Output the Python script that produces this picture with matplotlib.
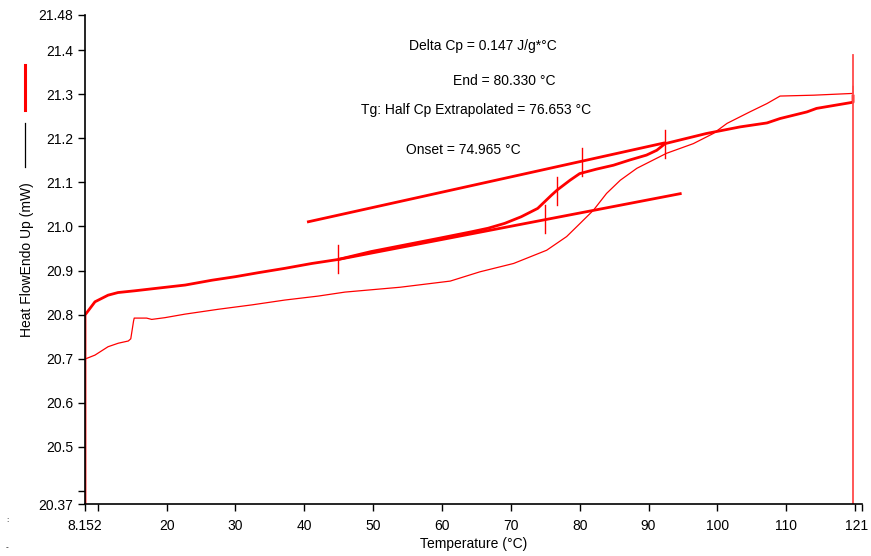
import numpy as np
import matplotlib
matplotlib.use("Agg")
import matplotlib.pyplot as plt
from matplotlib.lines import Line2D
from matplotlib.transforms import ScaledTranslation

plt.rcParams['font.family'] = ['Liberation Sans', 'DejaVu Sans']

# heating curve with Tg analysis (thick)
t_thick = [8.152, 8.152, 9.6, 11.5, 12.95, 15.4, 18.75, 22.7, 26.6, 30.0, 33.3, 37.2, 41.1, 44.9,
           49.7, 54.6, 59.5, 64.3, 66.7, 69.1, 71.5, 73.9, 75.9, 76.75, 78.6, 80.0, 82.4, 84.9,
           87.3, 89.7, 91.2, 92.4, 98.4, 103.3, 107.2, 109.1, 113.0, 114.4, 117.8, 119.7, 119.7]
hf_thick = [20.37, 20.799, 20.829, 20.844, 20.85, 20.854, 20.86, 20.867, 20.878, 20.886, 20.895, 20.905, 20.916, 20.925,
            20.943, 20.958, 20.973, 20.988, 20.996, 21.007, 21.022, 21.041, 21.071, 21.083, 21.105, 21.12, 21.13, 21.139,
            21.151, 21.162, 21.173, 21.188, 21.211, 21.226, 21.235, 21.245, 21.26, 21.268, 21.277, 21.282, 21.296]

# second heating curve (thin)
t_thin = [8.152, 9.6, 11.5, 12.99, 14.44, 14.8, 15.2, 15.3, 17.1, 17.84, 19.77, 22.68, 27.5, 32.4, 37.2,
          42.04, 45.9, 53.9, 61.2, 65.5, 70.4, 75.2, 78.1, 80.06, 82.0, 83.9, 85.9, 88.3, 90.7, 92.6,
          96.5, 99.4, 101.4, 104.7, 107.2, 109.1, 114.0, 119.7, 119.7]
hf_thin = [20.699, 20.708, 20.727, 20.735, 20.74, 20.745, 20.785, 20.792, 20.792, 20.789, 20.793, 20.801, 20.812, 20.822, 20.833,
           20.842, 20.851, 20.862, 20.876, 20.897, 20.916, 20.946, 20.977, 21.007, 21.037, 21.075, 21.105, 21.132, 21.151, 21.166,
           21.188, 21.211, 21.234, 21.26, 21.279, 21.296, 21.298, 21.302, 21.318]

# extrapolated baselines
t_base_low = [44.9, 94.8]
hf_base_low = [20.925, 21.075]
t_base_up = [40.4, 92.4]
hf_base_up = [21.010, 21.190]

# analysis marks (temperature, centre value)
mark_t = [44.9, 74.965, 76.653, 80.33, 92.4]
mark_hf = [20.927, 21.017, 21.08, 21.146, 21.188]
mark_half = 0.032

# limits / vertical cursors
t_min, t_max = 8.152, 121
hf_min, hf_max = 20.37, 21.48
t_right = 119.7
hf_right_top = 21.39

xticks = [8.152, 10, 20, 30, 40, 50, 60, 70, 80, 90, 100, 110, 120, 121]
xtick_labels = ['8.152', '', '20', '30', '40', '50', '60', '70', '80', '90', '100', '110', '', '121']
yticks = [20.37, 20.4, 20.5, 20.6, 20.7, 20.8, 20.9, 21.0, 21.1, 21.2, 21.3, 21.4, 21.48]
ytick_labels = ['20.37', '', '20.5', '20.6', '20.7', '20.8', '20.9', '21.0', '21.1', '21.2', '21.3', '21.4', '21.48']

annotations = [
    ("Delta Cp = 0.147 J/g*\u00b0C", 409, 46),
    ("End = 80.330 \u00b0C", 453, 81),
    ("Tg: Half Cp Extrapolated = 76.653 \u00b0C", 361, 110),
    ("Onset = 74.965 \u00b0C", 406, 150),
]

W, H = 871, 556
fig = plt.figure(figsize=(W / 100, H / 100), dpi=100)
ax = fig.add_axes([85 / W, 1 - 504 / H, (862 - 85) / W, (504 - 15) / H])

red = '#ff0000'
ax.plot(t_thin, hf_thin, color=red, lw=0.9)
ax.plot(t_thick, hf_thick, color=red, lw=2.0)
ax.plot(t_base_low, hf_base_low, color=red, lw=2.0, solid_capstyle='butt')
ax.plot(t_base_up, hf_base_up, color=red, lw=2.0, solid_capstyle='butt')
for t, h in zip(mark_t, mark_hf):
    ax.plot([t, t], [h - mark_half, h + mark_half], color=red, lw=1.0)

ax.plot([t_min, t_min], [hf_min, 20.80], color=red, lw=1.2)
ax.plot([t_right, t_right], [hf_min, hf_right_top], color='#ff4a4a', lw=1.3)

ax.set_xlim(t_min, t_max)
ax.set_ylim(hf_min, hf_max)
ax.set_xticks(xticks)
ax.set_xticklabels(xtick_labels)
ax.set_yticks(yticks)
ax.set_yticklabels(ytick_labels)
ax.tick_params(axis='both', direction='out', length=5, width=1, labelsize=10, colors='black')
ax.tick_params(axis='x', pad=6)
ax.spines['top'].set_visible(False)
ax.spines['right'].set_visible(False)
ax.spines['left'].set_linewidth(1.2)
ax.spines['bottom'].set_linewidth(1.2)
ax.set_xlabel('Temperature (\u00b0C)', fontsize=10, labelpad=3)

# keep the last x label inside the figure
last = ax.get_xticklabels()[-1]
last.set_transform(last.get_transform() + ScaledTranslation(-5 / 100, 0, fig.dpi_scale_trans))

fig.text(27 / W, 1 - 260 / H, 'Heat FlowEndo Up (mW)', rotation=90, ha='center', va='center', fontsize=10)
fig.add_artist(Line2D([25 / W, 25 / W], [1 - 65 / H, 1 - 110 / H], color=red, lw=2.2))
fig.add_artist(Line2D([25 / W, 25 / W], [1 - 123 / H, 1 - 167 / H], color='black', lw=0.9))

for txt, px, py in annotations:
    fig.text(px / W, 1 - py / H, txt, ha='left', va='center', fontsize=10)

fig.text(6 / W, 1 - 520 / H, ':', fontsize=6, ha='left', va='center')
fig.text(6 / W, 1 - 548 / H, '-', fontsize=6, ha='left', va='center')

fig.savefig('out.png', dpi=100)
